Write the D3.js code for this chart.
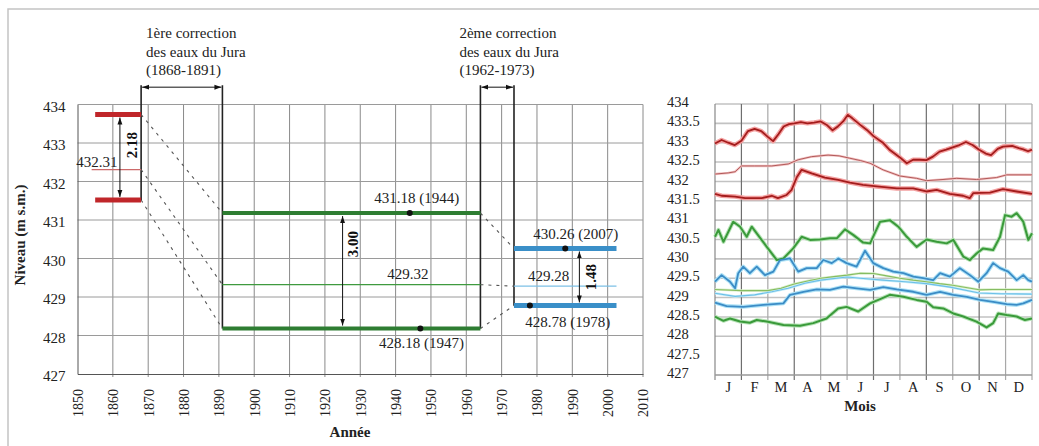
<!DOCTYPE html>
<html><head><meta charset="utf-8">
<script src="https://cdn.jsdelivr.net/npm/d3@7"></script>
<style>
body{margin:0;background:#fff}
svg{display:block;font-family:"Liberation Serif","Times New Roman",serif}
</style>
</head><body>
<svg id="c" width="1039" height="446"></svg>
<script>
// ---------------- DATA ----------------
// Left chart (annual levels per period)
const yearTicks = [1850,1860,1870,1880,1890,1900,1910,1920,1930,1940,1950,1960,1970,1980,1990,2000,2010];
const levelTicks = [427,428,429,430,431,432,433,434];
const periodKeys   = ["before","between","after"];
const periodStart  = [1855, 1891, 1973.5];
const periodEnd    = [1868, 1964, 2002.5];
const meanStart    = [1854, 1891, 1973.5];
const periodMax    = [433.74, 431.18, 430.26];
const periodMin    = [431.52, 428.18, 428.78];
const periodMean   = [432.31, 429.32, 429.28];
const rangeLabels  = ["2.18", "3.00", "1.48"];
const rangeArrowYear = [1862, 1925, 1992];
const maxLabels  = [null, "431.18 (1944)", "430.26 (2007)"];
const minLabels  = [null, "428.18 (1947)", "428.78 (1978)"];
const meanLabels = ["432.31", "429.32", "429.28"];
const dotYears   = [[null,null],[1944,1947],[1988,1978]]; // [on max, on min]
const correctionStart = [1868, 1964];
const correctionEnd   = [1891, 1973.5];
const correctionText  = [["1ère correction","des eaux du Jura","(1868-1891)"],
                         ["2ème correction","des eaux du Jura","(1962-1973)"]];

// Right chart (daily levels through the year, month index 0..12)
const monthLabels = ["J","F","M","A","M","J","J","A","S","O","N","D"];
const rightTicks = [427,427.5,428,428.5,429,429.5,430,430.5,431,431.5,432,432.5,433,433.5,434];
const redMax = [[0,432.98],[0.25,433.07],[0.5,433.0],[0.75,432.94],[1,433.05],[1.25,433.3],[1.5,433.36],[1.75,433.3],[2,433.15],[2.2,433.04],[2.4,433.22],[2.6,433.42],[2.8,433.48],[3,433.5],[3.25,433.53],[3.5,433.5],[3.75,433.52],[4,433.55],[4.25,433.45],[4.45,433.32],[4.65,433.42],[4.85,433.55],[5.03,433.72],[5.2,433.63],[5.5,433.46],[5.75,433.33],[6,433.17],[6.37,432.99],[6.62,432.81],[7,432.62],[7.26,432.47],[7.5,432.56],[7.75,432.56],[8,432.55],[8.25,432.64],[8.5,432.77],[8.75,432.82],[9,432.88],[9.25,432.94],[9.5,433.02],[9.75,432.94],[10,432.82],[10.25,432.72],[10.45,432.68],[10.7,432.84],[10.9,432.9],[11.25,432.92],[11.5,432.86],[11.67,432.83],[11.85,432.78],[12,432.82]];
const redMean = [[0,432.19],[0.5,432.22],[0.76,432.25],[1,432.4],[1.5,432.4],[2.15,432.4],[2.77,432.45],[3.15,432.56],[3.66,432.64],[4.28,432.68],[4.7,432.66],[5.1,432.6],[5.5,432.54],[5.87,432.47],[6.36,432.3],[7,432.14],[7.63,432.08],[8,432.02],[8.63,432.05],[9.15,432.08],[9.9,432.05],[10.66,432.1],[11.04,432.17],[12,432.17]];
const redMin = [[0,431.68],[0.25,431.63],[0.76,431.61],[1.14,431.57],[1.77,431.57],[2.15,431.63],[2.38,431.57],[2.71,431.65],[2.9,431.78],[3.09,432.1],[3.28,432.3],[3.66,432.21],[4.16,432.1],[4.66,432.04],[5.11,431.97],[5.6,431.91],[6.12,431.87],[6.88,431.82],[7.5,431.82],[8.0,431.74],[8.39,431.78],[8.89,431.68],[9.39,431.63],[9.65,431.57],[9.78,431.7],[10.41,431.71],[10.9,431.8],[11.42,431.74],[12,431.68]];
const greenMax = [[0,430.57],[0.13,430.75],[0.32,430.44],[0.69,430.96],[0.95,430.83],[1.2,430.57],[1.39,430.83],[1.58,430.66],[1.96,430.31],[2.34,429.97],[2.59,430.01],[2.96,430.27],[3.28,430.57],[3.6,430.49],[3.97,430.5],[4.35,430.53],[4.61,430.53],[4.92,430.76],[5.23,430.62],[5.61,430.42],[5.87,430.4],[6.25,430.96],[6.62,431.0],[6.94,430.83],[7.26,430.57],[7.63,430.31],[8.01,430.5],[8.39,430.44],[8.77,430.4],[9.02,430.49],[9.4,430.06],[9.65,429.97],[9.9,430.14],[10.15,430.27],[10.53,430.23],[10.79,430.57],[10.98,431.13],[11.23,431.09],[11.42,431.18],[11.67,430.96],[11.86,430.49],[12,430.66]];
const greenMean = [[0,429.21],[1,429.18],[2,429.18],[2.5,429.24],[3,429.35],[3.5,429.43],[4,429.5],[4.5,429.54],[5,429.58],[5.5,429.63],[6,429.62],[6.5,429.56],[7,429.5],[7.5,429.45],[8,429.41],[8.5,429.36],[9,429.32],[9.5,429.26],[10,429.2],[10.5,429.21],[12,429.21]];
const greenMin = [[0,428.51],[0.32,428.4],[0.57,428.46],[0.95,428.38],[1.32,428.35],[1.58,428.42],[1.96,428.38],[2.59,428.29],[3.22,428.27],[3.72,428.34],[4.22,428.46],[4.66,428.72],[4.98,428.76],[5.42,428.64],[5.87,428.85],[6.25,428.96],[6.62,429.07],[7.13,429.02],[7.63,428.94],[8.01,428.89],[8.26,428.75],[8.64,428.72],[9.02,428.59],[9.4,428.51],[9.9,428.38],[10.28,428.23],[10.53,428.34],[10.72,428.59],[11.04,428.55],[11.42,428.51],[11.73,428.42],[12,428.46]];
const blueMax = [[0,429.41],[0.25,429.58],[0.57,429.41],[0.76,429.24],[0.88,429.63],[1.07,429.8],[1.32,429.63],[1.58,429.8],[1.89,429.58],[2.21,429.67],[2.46,429.97],[2.84,430.01],[3.15,429.67],[3.47,429.76],[3.85,429.76],[4.1,429.97],[4.42,429.89],[4.67,430.01],[4.98,429.89],[5.36,429.8],[5.68,430.21],[5.99,429.89],[6.37,429.76],[6.75,429.67],[7.13,429.63],[7.51,429.54],[7.88,429.5],[8.26,429.45],[8.52,429.63],[8.89,429.54],[9.27,429.76],[9.65,429.58],[9.97,429.41],[10.28,429.63],[10.53,429.89],[10.79,429.76],[11.1,429.67],[11.42,429.45],[11.67,429.58],[11.86,429.45],[12,429.41]];
const blueMean = [[0,429.11],[0.76,429.03],[1.5,429.07],[2.15,429.15],[2.77,429.24],[3.4,429.37],[4.0,429.45],[5.0,429.53],[5.5,429.5],[6.36,429.45],[7.2,429.41],[8.0,429.36],[8.9,429.27],[10.0,429.12],[10.8,429.1],[12,429.09]];
const blueMin = [[0,428.87],[0.44,428.78],[1.07,428.76],[1.83,428.81],[2.59,428.85],[2.84,429.07],[3.35,429.15],[3.85,429.21],[4.35,429.2],[4.86,429.28],[5.36,429.24],[5.87,429.2],[6.37,429.27],[6.88,429.21],[7.51,429.15],[8.01,429.07],[8.52,429.15],[9.02,429.07],[9.53,429.02],[10.03,428.94],[10.53,428.89],[11.04,428.83],[11.42,428.81],[11.67,428.85],[12,428.94]];

// ---------------- STYLE ----------------
const periodColor = ["#c0262a", "#2e7d32", "#3a8fc8"];
const periodThin  = ["#cc6a6a", "#3f9a3f", "#7cc0e6"];
const correctionTextDx = [5, -21];

const svg = d3.select("#c");
// outer frame
svg.append("path").attr("d","M8,446 V9 H1039").attr("fill","none").attr("stroke","#c4c4c4").attr("stroke-width",1.5);

const defs = svg.append("defs");
defs.append("marker").attr("id","arr").attr("viewBox","0 0 10 10").attr("refX",10).attr("refY",5)
  .attr("markerWidth",7).attr("markerHeight",7).attr("orient","auto-start-reverse")
  .append("path").attr("d","M0,1.5 L10,5 L0,8.5 z").attr("fill","#111");

// ---------------- LEFT CHART ----------------
const xL = d3.scaleLinear().domain([1850,2010]).range([77.5,643]);
const yL = d3.scaleLinear().domain([427,434]).range([374,104.5]);
const L = svg.append("g");

// gridlines
L.append("g").selectAll("line").data(yearTicks.slice(1)).join("line")
  .attr("x1",d=>xL(d)).attr("x2",d=>xL(d)).attr("y1",yL(434)).attr("y2",yL(427)+3)
  .attr("stroke","#8a8a8a").attr("stroke-width",1);
L.append("g").selectAll("line").data(levelTicks.slice(1)).join("line")
  .attr("x1",xL(1850)).attr("x2",xL(2010)).attr("y1",d=>yL(d)).attr("y2",d=>yL(d))
  .attr("stroke","#9a9a9a").attr("stroke-width",1);
// axes
const axL = L.append("g").attr("transform",`translate(${xL(1850)},0)`)
  .call(d3.axisLeft(yL).tickValues(levelTicks).tickSize(0).tickPadding(12).tickFormat(d3.format("d")));
axL.attr("font-family",null);
axL.select(".domain").attr("stroke","#555");
axL.selectAll("text").attr("font-size",15).attr("fill","#222").attr("dy","0.45em");
const axB = L.append("g").attr("transform",`translate(0,${yL(427)})`)
  .call(d3.axisBottom(xL).tickValues(yearTicks).tickSize(0).tickFormat(d3.format("d")));
axB.attr("font-family",null);
axB.select(".domain").attr("stroke","#555");
axB.selectAll("text").attr("font-size",14).attr("fill","#222")
  .attr("transform","rotate(-90)").attr("text-anchor","middle").attr("x",-29).attr("y",0).attr("dy","0.35em");

L.append("text").attr("transform","translate(25,235) rotate(-90)").attr("text-anchor","middle")
  .attr("font-weight","bold").attr("font-size",15).attr("fill","#222").text("Niveau (m s.m.)");
L.append("text").attr("x",350).attr("y",437).attr("text-anchor","middle")
  .attr("font-weight","bold").attr("font-size",15).attr("fill","#222").text("Année");

// correction markers
const corrTop = 434.5, corrArrow = 434.45;
const corrBottoms = [[periodMin[0], periodMin[1]], [periodMin[1], periodMin[2]]];
correctionStart.forEach((s,i)=>{
  const e = correctionEnd[i];
  L.append("line").attr("x1",xL(s)).attr("x2",xL(s)).attr("y1",yL(corrTop)).attr("y2",yL(corrBottoms[i][0]))
    .attr("stroke","#222").attr("stroke-width",1.6);
  L.append("line").attr("x1",xL(e)).attr("x2",xL(e)).attr("y1",yL(corrTop)).attr("y2",yL(corrBottoms[i][1]))
    .attr("stroke","#222").attr("stroke-width",1.6);
  L.append("line").attr("x1",xL(s)+1).attr("x2",xL(e)-1).attr("y1",yL(corrArrow)).attr("y2",yL(corrArrow))
    .attr("stroke","#111").attr("stroke-width",1)
    .attr("marker-start","url(#arr)").attr("marker-end","url(#arr)");
  const t = L.append("text").attr("font-size",15).attr("fill","#222");
  correctionText[i].forEach((line,j)=>{
    t.append("tspan").attr("x",xL(s)+correctionTextDx[i]).attr("y",38+j*18.5).text(line);
  });
});

// dashed connectors between periods
for (let i=0;i<2;i++){
  [[periodMax[i],periodMax[i+1]],[periodMean[i],periodMean[i+1]],[periodMin[i],periodMin[i+1]]].forEach(p=>{
    L.append("line").attr("x1",xL(periodEnd[i])).attr("y1",yL(p[0]))
      .attr("x2",xL(periodStart[i+1])).attr("y2",yL(p[1]))
      .attr("stroke","#555").attr("stroke-width",1.1).attr("stroke-dasharray","3,5");
  });
}

// period lines
periodKeys.forEach((k,i)=>{
  L.append("line").attr("x1",xL(meanStart[i])).attr("x2",xL(periodEnd[i]))
    .attr("y1",yL(periodMean[i])).attr("y2",yL(periodMean[i]))
    .attr("stroke",periodThin[i]).attr("stroke-width",1.2);
  [periodMax[i],periodMin[i]].forEach(v=>{
    L.append("line").attr("x1",xL(periodStart[i])).attr("x2",xL(periodEnd[i]))
      .attr("y1",yL(v)).attr("y2",yL(v))
      .attr("stroke",periodColor[i]).attr("stroke-width",i===1?4:5);
  });
  L.append("line").attr("x1",xL(rangeArrowYear[i])).attr("x2",xL(rangeArrowYear[i]))
    .attr("y1",yL(periodMax[i])+3).attr("y2",yL(periodMin[i])-3)
    .attr("stroke","#111").attr("stroke-width",1)
    .attr("marker-start","url(#arr)").attr("marker-end","url(#arr)");
});
const rangeLabelPos = [[132,145],[353,244],[591,277]];
rangeLabels.forEach((t,i)=>{
  L.append("text").attr("transform",`translate(${rangeLabelPos[i][0]},${rangeLabelPos[i][1]}) rotate(-90)`)
    .attr("text-anchor","middle").attr("dy","0.35em").attr("font-weight","bold").attr("font-size",15)
    .attr("fill","#111").text(t);
});
dotYears.forEach((d,i)=>{
  if (d[0]!==null) L.append("circle").attr("cx",xL(d[0])).attr("cy",yL(periodMax[i])).attr("r",3).attr("fill","#111");
  if (d[1]!==null) L.append("circle").attr("cx",xL(d[1])).attr("cy",yL(periodMin[i])).attr("r",3).attr("fill","#111");
});
const lbl = (x,y,t)=>L.append("text").attr("x",x).attr("y",y).attr("text-anchor","middle")
  .attr("font-size",15).attr("fill","#222").text(t);
lbl(xL(1855.5), yL(periodMean[0])-3, meanLabels[0]);
lbl(xL(1946), yL(periodMax[1])-10, maxLabels[1]);
lbl(xL(1943.5), yL(periodMean[1])-6, meanLabels[1]);
lbl(xL(1947.3), yL(periodMin[1])+19, minLabels[1]);
lbl(xL(1991), yL(periodMax[2])-9, maxLabels[2]);
lbl(xL(1983.3), yL(periodMean[2])-5, meanLabels[2]);
lbl(xL(1988.7), yL(periodMin[2])+22, minLabels[2]);

// ---------------- RIGHT CHART ----------------
const xR = d3.scaleLinear().domain([0,12]).range([715,1032]);
const yR = d3.scaleLinear().domain([427,434]).range([375,104]);
const R = svg.append("g");
const monthBounds = [1,2,3,4,5,6,7,8,9,10,11,12];
const darkBounds = [1,3,6,8,10];
R.append("g").selectAll("line").data(rightTicks.filter(v=>v>=428)).join("line")
  .attr("x1",xR(0)).attr("x2",xR(12)).attr("y1",d=>yR(d)).attr("y2",d=>yR(d))
  .attr("stroke","#c2c2c2").attr("stroke-width",1.6);
R.append("g").selectAll("line").data(monthBounds).join("line")
  .attr("x1",d=>xR(d)).attr("x2",d=>xR(d)).attr("y1",yR(434)).attr("y2",yR(427)+5)
  .attr("stroke",d=>darkBounds.includes(d)?"#6e6e6e":"#a8a8a8").attr("stroke-width",1.2);
R.append("line").attr("x1",xR(0)).attr("x2",xR(0)).attr("y1",yR(434)).attr("y2",yR(427)+5).attr("stroke","#888").attr("stroke-width",1.2);
R.append("line").attr("x1",xR(0)).attr("x2",xR(12)).attr("y1",yR(427)).attr("y2",yR(427)).attr("stroke","#999").attr("stroke-width",1.5);

R.append("g").selectAll("text").data(rightTicks).join("text")
  .attr("x",667).attr("y",d=>yR(d)-2).attr("dy","0.35em")
  .attr("font-size",14.5).attr("fill","#222").text(d=>d);
R.append("g").selectAll("text").data(monthLabels).join("text")
  .attr("x",(d,i)=>xR(i+0.5)).attr("y",392).attr("text-anchor","middle")
  .attr("font-size",14.5).attr("fill","#222").text(d=>d);
R.append("text").attr("x",860).attr("y",411).attr("text-anchor","middle")
  .attr("font-weight","bold").attr("font-size",15).attr("fill","#222").text("Mois");

const line = d3.line().x(d=>xR(d[0])).y(d=>yR(d[1]));
const series = [
  {d:redMax,  halo:"#f4a0a0", c:"#a41c1c", hw:4.5, w:1.8},
  {d:redMin,  halo:"#f4a0a0", c:"#a41c1c", hw:4.5, w:1.8},
  {d:redMean, halo:"#f3c4c4", c:"#b25a5a", hw:2.5, w:1},
  {d:greenMax,halo:"#b8e4b8", c:"#3a9a3a", hw:4,   w:2},
  {d:greenMin,halo:"#b8e4b8", c:"#3a9a3a", hw:4,   w:2},
  {d:greenMean,halo:"#d8efc8",c:"#86bc62", hw:2.5, w:1.1},
  {d:blueMean, halo:"#c6ecf8",c:"#6cc0e8", hw:2.5, w:1.1},
  {d:blueMax, halo:"#aee2f6", c:"#3b8cc6", hw:4,   w:1.8},
  {d:blueMin, halo:"#aee2f6", c:"#3b8cc6", hw:4,   w:1.8}
];
series.forEach(s=>{
  R.append("path").attr("d",line(s.d)).attr("fill","none").attr("stroke",s.halo)
    .attr("stroke-width",s.hw).attr("stroke-linejoin","round");
});
series.forEach(s=>{
  R.append("path").attr("d",line(s.d)).attr("fill","none").attr("stroke",s.c)
    .attr("stroke-width",s.w).attr("stroke-linejoin","round");
});
</script>
</body></html>
